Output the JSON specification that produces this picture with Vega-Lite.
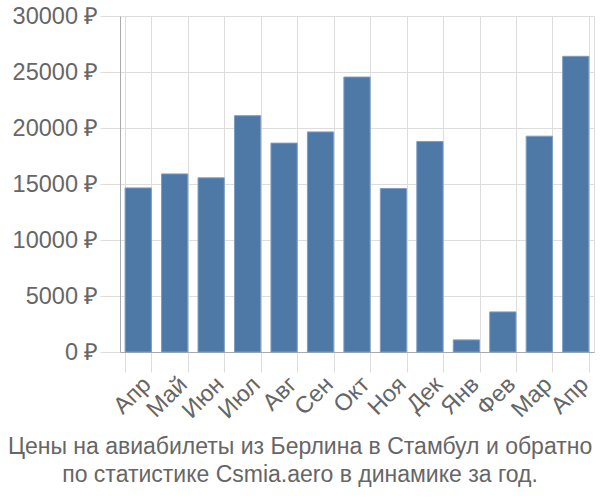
{
  "$schema": "https://vega.github.io/schema/vega-lite/v6.json",
  "width": 600,
  "height": 500,
  "autosize": {"type": "fit", "contains": "padding"},
  "padding": {"left": 12, "top": 4, "right": 6, "bottom": 12},
  "data": {"values": [
    {"month": "Апр", "price": 14650},
    {"month": "Май", "price": 15900},
    {"month": "Июн", "price": 15550},
    {"month": "Июл", "price": 21100},
    {"month": "Авг", "price": 18650},
    {"month": "Сен", "price": 19650},
    {"month": "Окт", "price": 24550},
    {"month": "Ноя", "price": 14600},
    {"month": "Дек", "price": 18800},
    {"month": "Янв", "price": 1080},
    {"month": "Фев", "price": 3580},
    {"month": "Мар", "price": 19270},
    {"month": "Апр\u200b", "price": 26400}
  ]},
  "title": {
    "text": ["Цены на авиабилеты из Берлина в Стамбул и обратно", "по статистике Csmia.aero в динамике за год."],
    "orient": "bottom",
    "anchor": "middle",
    "frame": "bounds",
    "dx": -3,
    "font": "Liberation Sans",
    "fontSize": 23,
    "fontWeight": "normal",
    "color": "#666666",
    "offset": 14,
    "lineHeight": 28
  },
  "config": {
    "view": {"stroke": "#dddddd"},
    "axis": {
      "labelFont": "Liberation Sans",
      "labelFontSize": 23.5,
      "labelColor": "#666666",
      "gridColor": "#dddddd",
      "tickColor": "#dddddd",
      "domainColor": "#aaaaaa",
      "tickSize": 20
    }
  },
  "mark": {"type": "bar", "color": "#4e78a6", "stroke": "#7d9dc4", "strokeWidth": 1},
  "encoding": {
    "x": {
      "field": "month",
      "type": "nominal",
      "sort": null,
      "scale": {"paddingInner": 0.28, "paddingOuter": 0.14},
      "axis": {"title": null, "labelAngle": -45, "grid": true, "tickBand": "extent", "labelPadding": 0}
    },
    "y": {
      "field": "price",
      "type": "quantitative",
      "scale": {"domain": [0, 30000]},
      "axis": {"title": null, "tickCount": 6, "labelExpr": "datum.value + ' ₽'", "labelPadding": 2}
    }
  }
}
